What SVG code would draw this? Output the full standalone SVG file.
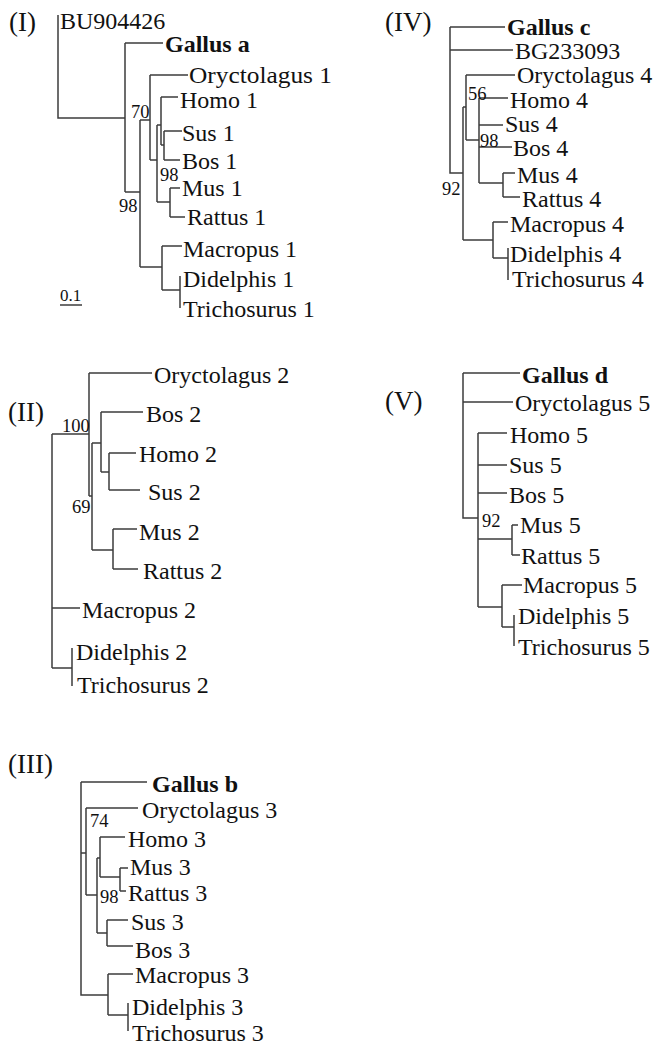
<svg xmlns="http://www.w3.org/2000/svg" width="658" height="1048" viewBox="0 0 658 1048">
<style>
text{font-family:"Liberation Serif","Times New Roman",serif;fill:#111}
.t{font-size:24px}
.b{font-size:24px;font-weight:bold}
.s{font-size:18.5px}
.p{font-size:27px}
.k{font-size:17px}
.e path{fill:none;stroke:#3c3c3c;stroke-width:1.5}
</style>
<rect width="658" height="1048" fill="#fff"/>

<!-- Tree I -->
<g id="tree-I">
<text class="p" x="9" y="31">(I)</text>
<g class="e" id="tree-I-connectors"><path d="M58,15V118H125M125,43V192M125,43H163M125,192H140M140,120V267M140,120H150M150,75V160M150,75H188M150,160H157M157,125V202M157,125H161M161,97V145M161,97H178M161,145H164M164,131V160M164,131H182M164,160H180M157,202H170M170,188V217M170,188H180M170,217H185M140,267H162M162,246V290M162,246H182M162,290H180M180,276V308"/>
<path d="M60,305H82"/></g>
<g id="I-BU904426"><text class="t" x="60" y="29">BU904426</text></g>
<g id="I-gallus-a"><text class="b" x="165" y="52">Gallus a</text></g>
<g id="I-oryctolagus"><text class="t" x="189" y="83" textLength="143" lengthAdjust="spacingAndGlyphs">Oryctolagus 1</text></g>
<g id="I-homo"><text class="t" x="180" y="108">Homo 1</text></g>
<g id="I-sus"><text class="t" x="182" y="141">Sus 1</text></g>
<g id="I-bos"><text class="t" x="182" y="169">Bos 1</text></g>
<g id="I-mus"><text class="t" x="182" y="196">Mus 1</text></g>
<g id="I-rattus"><text class="t" x="187" y="225">Rattus 1</text></g>
<g id="I-macropus"><text class="t" x="183" y="257">Macropus 1</text></g>
<g id="I-didelphis"><text class="t" x="183" y="287">Didelphis 1</text></g>
<g id="I-trichosurus"><text class="t" x="183" y="317">Trichosurus 1</text></g>
<g id="I-support"><text class="s" x="131" y="118">70</text><text class="s" x="160" y="181">98</text><text class="s" x="119" y="212">98</text></g>
<g id="I-scale"><text class="k" x="60" y="301">0.1</text></g>
</g>

<!-- Tree IV -->
<g id="tree-IV">
<text class="p" x="385" y="31">(IV)</text>
<g class="e" id="tree-IV-connectors"><path d="M450,27V173H463M450,27H505M450,50H513M463,107V240M463,107H466M466,75V140M466,75H515M466,140H479M479,98V183M479,98H508M479,125H503M479,147H512M479,183H503M503,173V197M503,173H515M503,197H520M463,240H493M493,222V258M493,222H508M493,258H508M508,248V280"/></g>
<g id="IV-gallus-c"><text class="b" x="507" y="35">Gallus c</text></g>
<g id="IV-BG233093"><text class="t" x="515" y="59">BG233093</text></g>
<g id="IV-oryctolagus"><text class="t" x="517" y="83">Oryctolagus 4</text></g>
<g id="IV-homo"><text class="t" x="510" y="108">Homo 4</text></g>
<g id="IV-sus"><text class="t" x="505" y="132">Sus 4</text></g>
<g id="IV-bos"><text class="t" x="513" y="156">Bos 4</text></g>
<g id="IV-mus"><text class="t" x="517" y="183">Mus 4</text></g>
<g id="IV-rattus"><text class="t" x="522" y="207">Rattus 4</text></g>
<g id="IV-macropus"><text class="t" x="510" y="232">Macropus 4</text></g>
<g id="IV-didelphis"><text class="t" x="510" y="262">Didelphis 4</text></g>
<g id="IV-trichosurus"><text class="t" x="512" y="287">Trichosurus 4</text></g>
<g id="IV-support"><text class="s" x="468" y="100">56</text><text class="s" x="480" y="147">98</text><text class="s" x="442" y="195">92</text></g>
</g>

<!-- Tree II -->
<g id="tree-II">
<text class="p" x="8" y="421">(II)</text>
<g class="e" id="tree-II-connectors"><path d="M52,434V668M52,434H89M89,373V496M89,373H152M89,496H92M92,443V550M92,443H101M92,550H113M101,412V472M101,412H143M101,472H109M109,453V490M109,453H136M109,490H140M113,529V569M113,529H137M113,569H138M52,608H80M52,668H72M72,648V686"/></g>
<g id="II-oryctolagus"><text class="t" x="154" y="383">Oryctolagus 2</text></g>
<g id="II-bos"><text class="t" x="146" y="422">Bos 2</text></g>
<g id="II-homo"><text class="t" x="139" y="462">Homo 2</text></g>
<g id="II-sus"><text class="t" x="148" y="500">Sus 2</text></g>
<g id="II-mus"><text class="t" x="139" y="540">Mus 2</text></g>
<g id="II-rattus"><text class="t" x="143" y="579">Rattus 2</text></g>
<g id="II-macropus"><text class="t" x="82" y="618">Macropus 2</text></g>
<g id="II-didelphis"><text class="t" x="76" y="660">Didelphis 2</text></g>
<g id="II-trichosurus"><text class="t" x="77" y="693">Trichosurus 2</text></g>
<g id="II-support"><text class="s" x="62" y="432">100</text><text class="s" x="72" y="513">69</text></g>
</g>

<!-- Tree V -->
<g id="tree-V">
<text class="p" x="385" y="410">(V)</text>
<g class="e" id="tree-V-connectors"><path d="M463,373V518H478M463,373H520M463,402H513M478,433V607M478,433H507M478,465H507M478,493H507M478,539H512M512,525V555M512,525H518M512,555H520M478,607H502M502,585V627M502,585H522M502,627H514M514,615V646"/></g>
<g id="V-gallus-d"><text class="b" x="522" y="383">Gallus d</text></g>
<g id="V-oryctolagus"><text class="t" x="515" y="411">Oryctolagus 5</text></g>
<g id="V-homo"><text class="t" x="510" y="443">Homo 5</text></g>
<g id="V-sus"><text class="t" x="509" y="473">Sus 5</text></g>
<g id="V-bos"><text class="t" x="509" y="503">Bos 5</text></g>
<g id="V-mus"><text class="t" x="520" y="533">Mus 5</text></g>
<g id="V-rattus"><text class="t" x="521" y="564">Rattus 5</text></g>
<g id="V-macropus"><text class="t" x="523" y="593">Macropus 5</text></g>
<g id="V-didelphis"><text class="t" x="518" y="624">Didelphis 5</text></g>
<g id="V-trichosurus"><text class="t" x="518" y="655">Trichosurus 5</text></g>
<g id="V-support"><text class="s" x="482" y="527">92</text></g>
</g>

<!-- Tree III -->
<g id="tree-III">
<text class="p" x="8" y="773">(III)</text>
<g class="e" id="tree-III-connectors"><path d="M81,782V995H108M81,782H147M81,853H86M86,808V895M86,808H138M86,895H97M97,858V933M97,858H100M100,837V877M100,837H125M100,877H120M120,868V891M120,868H128M120,891H126M97,933H107M107,920V946M107,920H128M107,946H133M108,974V1015M108,974H133M108,1015H128M128,1003V1031"/></g>
<g id="III-gallus-b"><text class="b" x="152" y="792">Gallus b</text></g>
<g id="III-oryctolagus"><text class="t" x="142" y="818">Oryctolagus 3</text></g>
<g id="III-homo"><text class="t" x="128" y="847">Homo 3</text></g>
<g id="III-mus"><text class="t" x="130" y="875">Mus 3</text></g>
<g id="III-rattus"><text class="t" x="128" y="901">Rattus 3</text></g>
<g id="III-sus"><text class="t" x="131" y="930">Sus 3</text></g>
<g id="III-bos"><text class="t" x="135" y="958">Bos 3</text></g>
<g id="III-macropus"><text class="t" x="135" y="983">Macropus 3</text></g>
<g id="III-didelphis"><text class="t" x="132" y="1015">Didelphis 3</text></g>
<g id="III-trichosurus"><text class="t" x="132" y="1041">Trichosurus 3</text></g>
<g id="III-support"><text class="s" x="90" y="827">74</text><text class="s" x="100" y="903">98</text></g>
</g>
</svg>
